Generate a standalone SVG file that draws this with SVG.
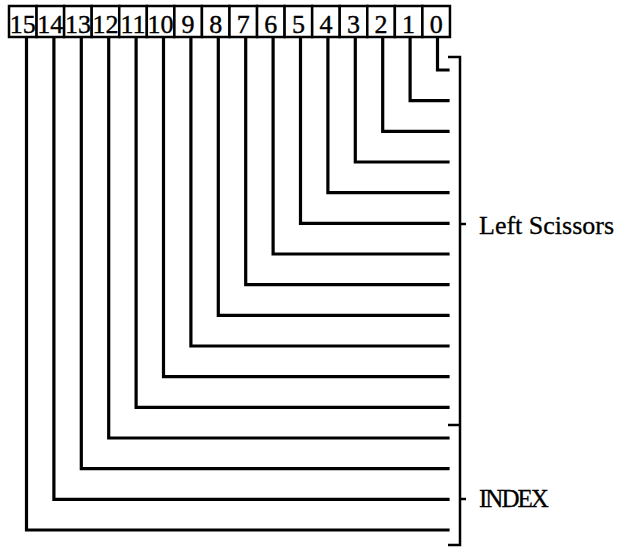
<svg xmlns="http://www.w3.org/2000/svg" width="627" height="547" viewBox="0 0 627 547">
<style>
.box{fill:#fff;stroke:#000;stroke-width:2.5}
.num{font-family:"Liberation Serif","Times New Roman",serif;font-size:26px;text-anchor:middle;fill:#000;stroke:#000;stroke-width:0.4}
.wire{fill:none;stroke:#000;stroke-width:3.2;stroke-linejoin:miter;stroke-linecap:square}
.brk{fill:none;stroke:#000;stroke-width:2.5}
.lbl{font-family:"Liberation Serif","Times New Roman",serif;fill:#000;stroke:#000;stroke-width:0.3}
</style>
<rect width="627" height="547" fill="#fff"/>
<g id="connectors">
<path class="wire" d="M437.5,37 V70 H448"/>
<path class="wire" d="M410.1,37 V100.7 H448"/>
<path class="wire" d="M382.7,37 V131.3 H448"/>
<path class="wire" d="M355.3,37 V162 H448"/>
<path class="wire" d="M327.9,37 V192.6 H448"/>
<path class="wire" d="M300.5,37 V223.3 H448"/>
<path class="wire" d="M273.1,37 V254 H448"/>
<path class="wire" d="M245.7,37 V284.6 H448"/>
<path class="wire" d="M218.3,37 V315.3 H448"/>
<path class="wire" d="M190.9,37 V346 H448"/>
<path class="wire" d="M163.5,37 V376.6 H448"/>
<path class="wire" d="M136.1,37 V407.3 H448"/>
<path class="wire" d="M108.7,37 V438 H448"/>
<path class="wire" d="M81.3,37 V468.6 H448"/>
<path class="wire" d="M53.9,37 V499.3 H448"/>
<path class="wire" d="M26.5,37 V530 H448"/>
</g>
<g id="bracket">
<path class="brk" d="M448,57 H460 V545 H448"/>
<path class="brk" d="M448,425 H460"/>
<path class="brk" d="M460,224 H466"/>
<path class="brk" d="M460,499 H466"/>
</g>
<g id="register">
<g id="bit15"><rect class="box" x="9" y="6" width="27.56" height="31"/><text class="num" x="22.8" y="33">15</text></g>
<g id="bit14"><rect class="box" x="36.56" y="6" width="27.56" height="31"/><text class="num" x="50.3" y="33">14</text></g>
<g id="bit13"><rect class="box" x="64.12" y="6" width="27.56" height="31"/><text class="num" x="77.9" y="33">13</text></g>
<g id="bit12"><rect class="box" x="91.68" y="6" width="27.56" height="31"/><text class="num" x="105.5" y="33">12</text></g>
<g id="bit11"><rect class="box" x="119.24" y="6" width="27.56" height="31"/><text class="num" x="133" y="33">11</text></g>
<g id="bit10"><rect class="box" x="146.8" y="6" width="27.56" height="31"/><text class="num" x="160.6" y="33">10</text></g>
<g id="bit9"><rect class="box" x="174.36" y="6" width="27.56" height="31"/><text class="num" x="188.1" y="33">9</text></g>
<g id="bit8"><rect class="box" x="201.92" y="6" width="27.56" height="31"/><text class="num" x="215.7" y="33">8</text></g>
<g id="bit7"><rect class="box" x="229.48" y="6" width="27.56" height="31"/><text class="num" x="243.3" y="33">7</text></g>
<g id="bit6"><rect class="box" x="257.04" y="6" width="27.56" height="31"/><text class="num" x="270.8" y="33">6</text></g>
<g id="bit5"><rect class="box" x="284.6" y="6" width="27.56" height="31"/><text class="num" x="298.4" y="33">5</text></g>
<g id="bit4"><rect class="box" x="312.16" y="6" width="27.56" height="31"/><text class="num" x="325.9" y="33">4</text></g>
<g id="bit3"><rect class="box" x="339.72" y="6" width="27.56" height="31"/><text class="num" x="353.5" y="33">3</text></g>
<g id="bit2"><rect class="box" x="367.28" y="6" width="27.56" height="31"/><text class="num" x="381.1" y="33">2</text></g>
<g id="bit1"><rect class="box" x="394.84" y="6" width="27.56" height="31"/><text class="num" x="408.6" y="33">1</text></g>
<g id="bit0"><rect class="box" x="422.4" y="6" width="27.56" height="31"/><text class="num" x="436.2" y="33">0</text></g>
</g>
<g id="label-left-scissors"><text class="lbl" x="479" y="234" font-size="26">Left Scissors</text></g>
<g id="label-index"><text class="lbl" x="479" y="507" font-size="25" letter-spacing="-2">INDEX</text></g>
</svg>
